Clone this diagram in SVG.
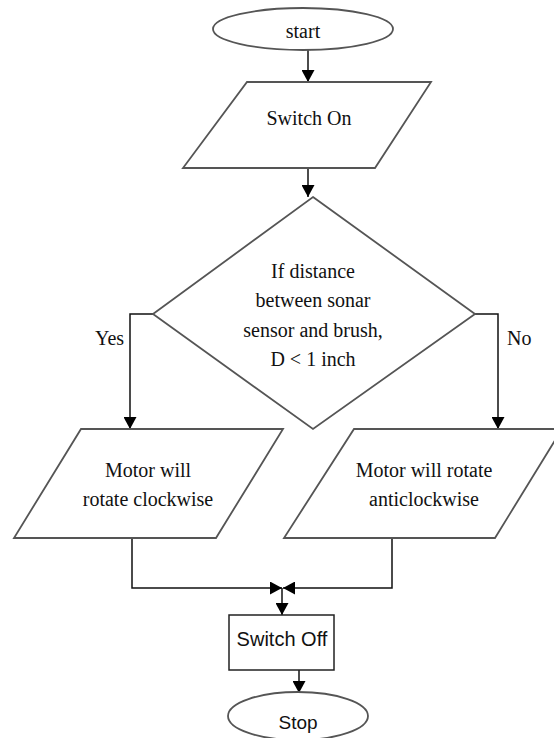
<svg xmlns="http://www.w3.org/2000/svg" width="554" height="738" viewBox="0 0 554 738">
<defs>
<marker id="ah" markerWidth="12" markerHeight="13" refX="12" refY="6.5" orient="auto" markerUnits="userSpaceOnUse">
<path d="M0,0 L12,6.5 L0,13 Z" fill="#000"/>
</marker>
<style>
.shape{fill:#fff;stroke:#555;stroke-width:1.8}
.conn{fill:none;stroke:#111;stroke-width:1.5}
.serif{font-family:'Liberation Serif','DejaVu Serif',serif;font-size:20px;fill:#111;text-anchor:middle}
.sans{font-family:'Liberation Sans','DejaVu Sans',sans-serif;font-size:20px;fill:#111;text-anchor:middle}
</style>
</defs>
<rect width="554" height="738" fill="#fff"/>
<g id="connectors">
<line class="conn" x1="308" y1="50" x2="308" y2="82" marker-end="url(#ah)"/>
<line class="conn" x1="308" y1="168" x2="308" y2="197" marker-end="url(#ah)"/>
<polyline class="conn" points="153,314 130,314 130,429" marker-end="url(#ah)"/>
<polyline class="conn" points="475,314 498,314 498,429" marker-end="url(#ah)"/>
<polyline class="conn" points="132,538 132,588 282,588" marker-end="url(#ah)"/>
<polyline class="conn" points="392,538 392,588 283,588" marker-end="url(#ah)"/>
<line class="conn" x1="282" y1="588" x2="282" y2="615" marker-end="url(#ah)"/>
<line class="conn" x1="299" y1="670" x2="299" y2="693" marker-end="url(#ah)"/>
<text class="serif" x="95" y="345" text-anchor="start" style="text-anchor:start">Yes</text>
<text class="serif" x="507" y="345" text-anchor="start" style="text-anchor:start">No</text>
</g>
<g id="start">
<ellipse class="shape" cx="303" cy="29" rx="90" ry="21"/>
<text class="serif" x="303" y="38">start</text>
</g>
<g id="switch-on">
<polygon class="shape" points="247,82 431,82 375,168 183,168"/>
<text class="serif" x="309" y="125">Switch On</text>
</g>
<g id="decision">
<polygon class="shape" points="313,197 475,314 313,429 153,314"/>
<text class="serif" x="313" y="278">If distance</text>
<text class="serif" x="313" y="307">between sonar</text>
<text class="serif" x="313" y="337">sensor and brush,</text>
<text class="serif" x="313" y="366">D &lt; 1 inch</text>
</g>
<g id="clockwise">
<polygon class="shape" points="81,429 283,429 216,538 14,538"/>
<text class="serif" x="148" y="477">Motor will</text>
<text class="serif" x="148" y="506">rotate clockwise</text>
</g>
<g id="anticlockwise">
<polygon class="shape" points="354,429 562,429 495,538 284,538"/>
<text class="serif" x="424" y="477">Motor will rotate</text>
<text class="serif" x="424" y="506">anticlockwise</text>
</g>
<g id="switch-off">
<rect x="229" y="615" width="105" height="55" fill="#fff" stroke="#222" stroke-width="1.5"/>
<text class="sans" x="282" y="646">Switch Off</text>
</g>
<g id="stop">
<ellipse class="shape" cx="298" cy="716" rx="70" ry="24"/>
<text class="sans" x="298" y="729" style="font-size:19px">Stop</text>
</g>
</svg>
